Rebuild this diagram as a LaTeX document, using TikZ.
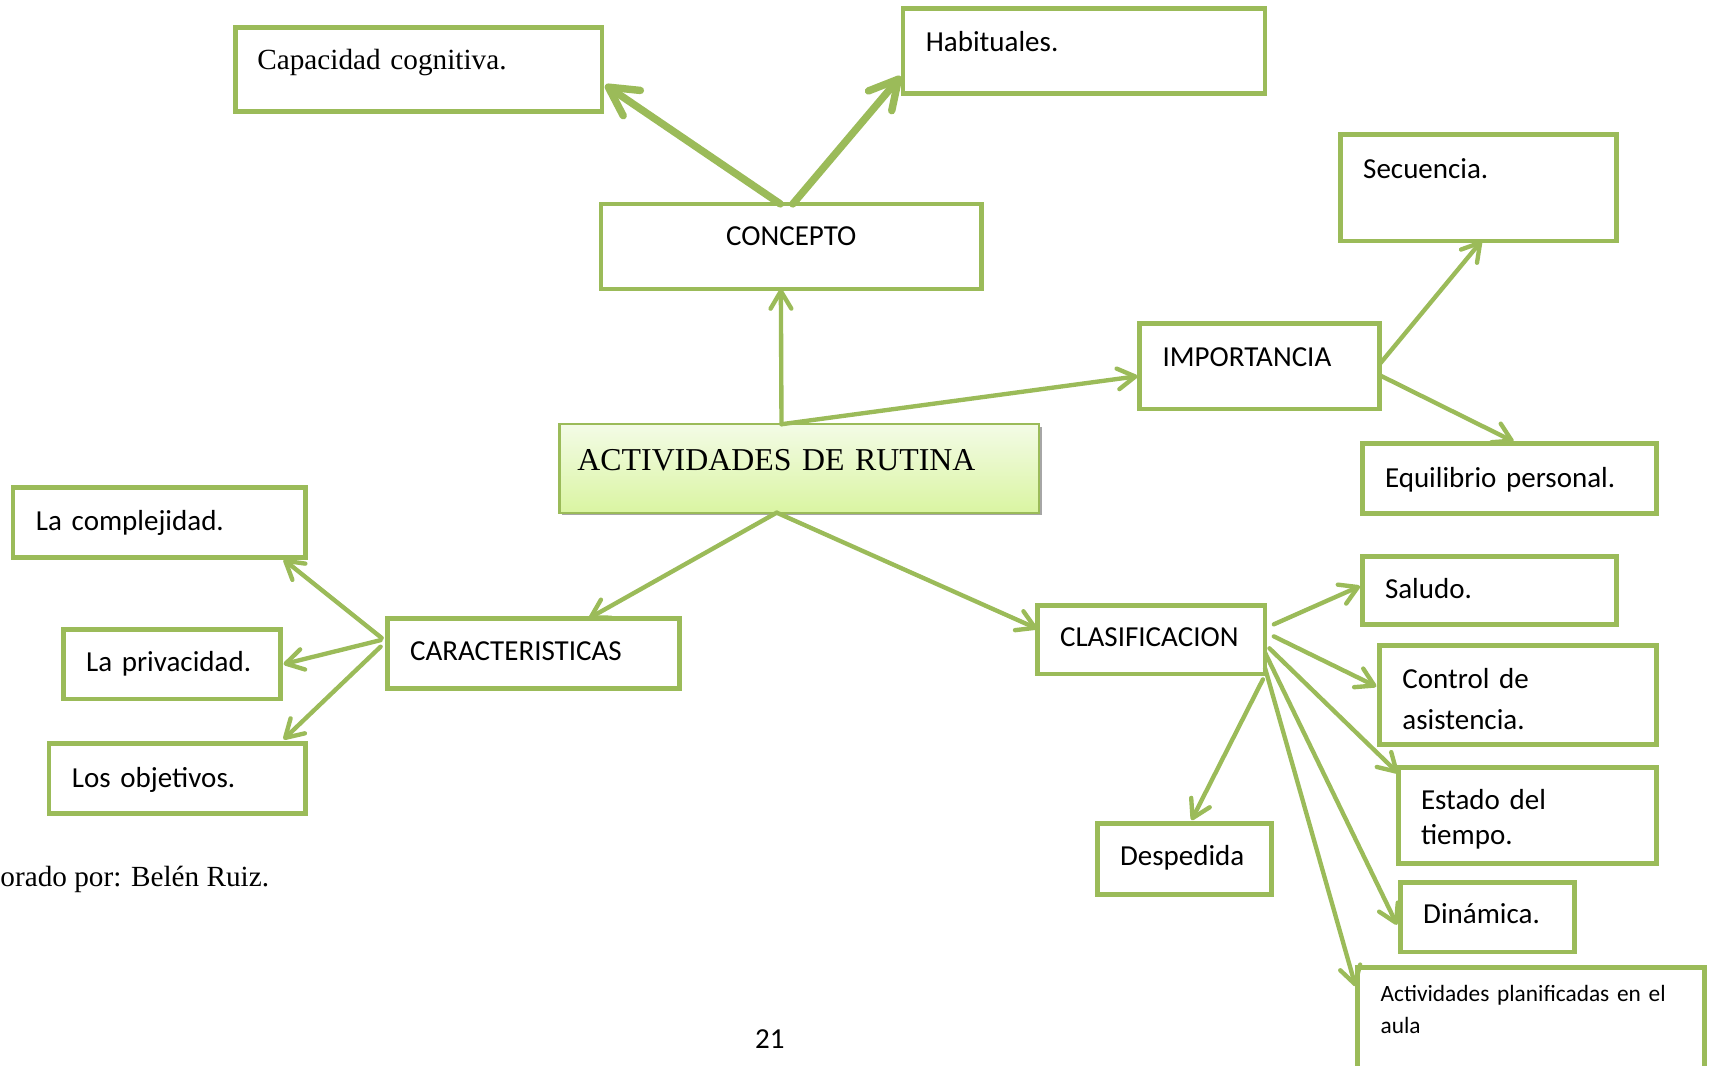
\documentclass[tikz,border=0pt]{standalone}
\usepackage{fontspec}
\setmainfont{Liberation Serif}
\newfontfamily\calibri{Carlito}
\usetikzlibrary{arrows.meta,shadows}
\definecolor{leaf}{HTML}{9BBB59}
\definecolor{leaftop}{HTML}{F3FBE6}
\definecolor{leafbottom}{HTML}{DAF5A2}
\hyphenpenalty=10000
\exhyphenpenalty=10000

\begin{document}
\begin{tikzpicture}[x=0.5pt, y=-0.5pt,
  box/.style = {draw=leaf, line width=2.2pt, anchor=north west, outer sep=0pt, inner xsep=10.5pt, inner ysep=0pt, align=left, font=\calibri\fontsize{13.3pt}{19pt}\selectfont},
  serif/.style = {font=\rmfamily\fontsize{13.4pt}{16pt}\selectfont},
  link/.style = {draw=leaf, line width=2pt, line cap=round, -{Straight Barb[round,length=8pt,width=9.5pt]}},
  thicklink/.style = {link, line width=3.4pt, -{Straight Barb[round,length=13pt,width=14pt]}}]
  \useasboundingbox (0,0) rectangle (1568,977);
  \node[box, serif, inner xsep=10pt, text width=148pt, text height=19.5pt, text depth=19pt] (cap) at (216,25) {Capacidad cognitiva.};
  \node[box, text width=145pt, text height=19.5pt, text depth=19.5pt] (hab) at (828,8) {Habituales.};
  \node[box, align=center, text width=153.5pt, text height=19pt, text depth=20pt] (conc) at (551,187) {CONCEPTO};
  \node[box, text width=105.5pt, text height=20.5pt, text depth=28.5pt] (sec) at (1229,123) {Secuencia.};
  \node[box, text width=89pt, text height=19.5pt, text depth=19.5pt] (imp) at (1045,297) {IMPORTANCIA};
  \node[box, text width=114pt, text height=20pt, text depth=12pt] (equi) at (1249,407) {Equilibrio personal.};
  \node[box, font=\rmfamily\fontsize{14.6pt}{17pt}\selectfont, line width=1pt, top color=leaftop, bottom color=leafbottom, drop shadow={shadow xshift=1.2pt, shadow yshift=-1.2pt, opacity=0.35, fill=black}, inner xsep=8.25pt, text width=203.5pt, text height=21.3pt, text depth=19.25pt] (act) at (513,389) {ACTIVIDADES DE RUTINA};
  \node[box, text width=113pt, text height=19.5pt, text depth=12.5pt] (comp) at (12,447) {La complejidad.};
  \node[box, text width=78.5pt, text height=19.5pt, text depth=12.5pt] (priv) at (58,577) {La privacidad.};
  \node[box, text width=96.5pt, text height=20pt, text depth=12pt] (obj) at (45,682) {Los objetivos.};
  \node[box, text width=113pt, text height=19.5pt, text depth=12.5pt] (car) at (355,567) {CARACTERISTICAS};
  \node[box, text width=83.5pt, text height=18.7pt, text depth=12.8pt] (clas) at (951,555) {CLASIFICACION};
  \node[box, text width=95.5pt, text height=19.5pt, text depth=12pt] (sal) at (1249,510) {Saludo.};
  \node[box, text width=106pt, text height=19.5pt, text depth=26pt] (ctrl) at (1265,592) {Control de\\asistencia.};
  \node[box, font=\calibri\fontsize{13.3pt}{16pt}\selectfont, text width=97.5pt, text height=19pt, text depth=25pt] (est) at (1282,704) {Estado del\\tiempo.};
  \node[box, text width=59pt, text height=18.8pt, text depth=13.2pt] (din) at (1284,809) {Dinámica.};
  \node[box, text width=59pt, text height=19.5pt, text depth=13pt] (desp) at (1006,755) {Despedida};
  \node[box, font=\calibri\fontsize{10.7pt}{14.5pt}\selectfont, text width=138pt, text height=15.75pt, text depth=35.75pt] (plan) at (1245,887) {Actividades planificadas en el\\aula};
  \node[serif, anchor=base west, inner sep=0pt] (credito) at (0,813) {orado por: Belén Ruiz.};
  \node[font=\calibri\fontsize{13.3pt}{16pt}\selectfont, anchor=base, inner sep=0pt] (pagina) at (706,961) {21};
  \draw[thicklink] ([xshift=-5pt]conc.north) to ([xshift=1.5pt,yshift=12pt]cap.south east);
  \draw[thicklink] ([xshift=0.75pt]conc.north) to ([xshift=-1pt,yshift=8pt]hab.south west);
  \draw[link] ([xshift=-8.2pt]act.north) to ([xshift=-4.75pt]conc.south);
  \draw[link] ([xshift=-8.2pt]act.north) to ([xshift=-1pt,yshift=-4.5pt]imp.west);
  \draw[link] ([yshift=1pt]imp.east) to ([xshift=1.5pt]sec.south);
  \draw[link] ([yshift=-4pt]imp.east) to ([xshift=2pt,yshift=1pt]equi.north);
  \draw[link] ([xshift=-10.4pt]act.south) to ([xshift=25.5pt]car.north);
  \draw[link] ([xshift=-10.4pt]act.south) to ([yshift=5pt]clas.west);
  \draw[link] ([xshift=-2.5pt,yshift=7pt]car.west) to ([xshift=-10pt,yshift=-1pt]comp.south east);
  \draw[link] ([xshift=-3pt,yshift=6pt]car.west) to ([xshift=1.5pt]priv.east);
  \draw[link] ([xshift=-3pt,yshift=3pt]car.west) to ([xshift=-10pt,yshift=2pt]obj.north east);
  \draw[link] ([xshift=4pt,yshift=7pt]clas.east) to ([xshift=-1pt,yshift=2pt]sal.west);
  \draw[link] ([xshift=4pt,yshift=1.5pt]clas.east) to ([xshift=-1.5pt,yshift=4pt]ctrl.west);
  \draw[link] ([xshift=2pt,yshift=-4pt]clas.east) to ([yshift=-2.5pt]est.north west);
  \draw[link] ([xshift=-1pt,yshift=-2.5pt]clas.south east) to ([xshift=3.3pt,yshift=1.5pt]desp.north);
  \draw[link] ([yshift=-6pt]clas.east) to ([xshift=-1.5pt,yshift=-3.5pt]din.west);
  \draw[link] ([yshift=2.7pt]clas.south east) to ([xshift=-1pt,yshift=-8.7pt]plan.north west);
\end{tikzpicture}
\end{document}
